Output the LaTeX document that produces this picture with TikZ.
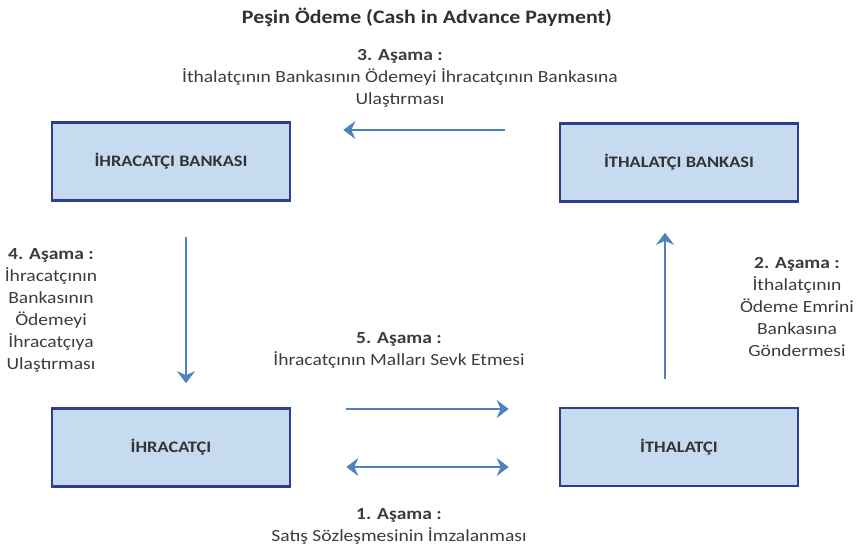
\documentclass[tikz,border=0pt]{standalone}
\usepackage{fontspec}
\setmainfont{Carlito}[FakeStretch=1.15]
\usetikzlibrary{arrows.meta}
\usetikzlibrary{calc,positioning}

\definecolor{flowblue}{HTML}{4F81BD}
\definecolor{boxfill}{HTML}{C6DBF0}
\definecolor{boxline}{HTML}{2E3D8C}
\definecolor{txtgray}{HTML}{3C3C3C}

\tikzset{
  party/.style={draw=boxline, line width=2.6pt, fill=boxfill,
    minimum width=238pt, minimum height=78pt, inner sep=0pt,
    font=\fontsize{16}{19}\selectfont\bfseries, text=txtgray!85!black},
  flow/.style={draw=flowblue, line width=2.8pt,
    arrows={-Stealth[length=12pt,width=18pt,inset=4pt]}},
  twoway/.style={flow, arrows={Stealth[length=12pt,width=18pt,inset=4pt]-Stealth[length=12pt,width=18pt,inset=4pt]}},
  stage/.style={align=center, text=txtgray, font=\fontsize{17}{22}\selectfont, inner sep=0pt}
}

\begin{document}
\begin{tikzpicture}[x=1pt, y=-1pt]
    \useasboundingbox (0,0) rectangle (868,549);

    \node[font=\fontsize{19}{22}\selectfont\bfseries, text=txtgray!80!black] (title) at (427,17) {Peşin Ödeme (Cash in Advance Payment)};

    % the four parties
    \node[party] (ihrbank) at (171,161.5) {İHRACATÇI BANKASI};
    \node[party] (ithbank) at (679,162.5) {İTHALATÇI BANKASI};
    \node[party] (ihr) at (171,447.5) {İHRACATÇI};
    \node[party] (ith) at (679,447) {İTHALATÇI};

    % arrows between them
    \draw[flow] ([xshift=-54pt,yshift=32.5pt]ithbank.west) -- ([xshift=52pt,yshift=31.5pt]ihrbank.east);
    \draw[flow] ([xshift=15pt,yshift=-35pt]ihrbank.south) -- ([xshift=15pt,yshift=24pt]ihr.north);
    \draw[flow] ([xshift=-14pt,yshift=28pt]ith.north) -- ([xshift=-14pt,yshift=-30pt]ithbank.south);
    \draw[flow] ([xshift=55pt,yshift=38.5pt]ihr.east) -- ([xshift=-50pt,yshift=38pt]ith.west);
    \draw[twoway] ([xshift=55pt,yshift=-19.5pt]ihr.east) -- ([xshift=-50pt,yshift=-20pt]ith.west);

    % stage labels
    \node[stage] (s3) at (400,78) {\textbf{3. Aşama :}\\İthalatçının Bankasının Ödemeyi İhracatçının Bankasına\\Ulaştırması};
    \node[stage] (s4) at (51,310) {\textbf{4. Aşama :}\\İhracatçının\\Bankasının\\Ödemeyi\\İhracatçıya\\Ulaştırması};
    \node[stage] (s2) at (797,307) {\textbf{2. Aşama :}\\İthalatçının\\Ödeme Emrini\\Bankasına\\Göndermesi};
    \node[stage] (s5) at (399,350.5) {\textbf{5. Aşama :}\\İhracatçının Malları Sevk Etmesi};
    \node[stage] (s1) at (399,526) {\textbf{1. Aşama :}\\Satış Sözleşmesinin İmzalanması};
\end{tikzpicture}
\end{document}
